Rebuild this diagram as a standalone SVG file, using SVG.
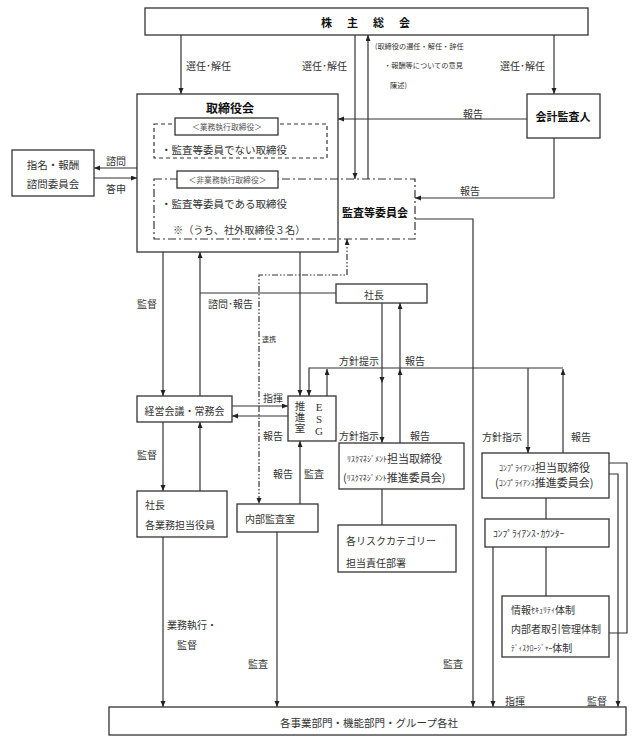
<svg xmlns="http://www.w3.org/2000/svg" width="636" height="747" viewBox="0 0 636 747">
<style>
.b{fill:none;stroke:#333;stroke-width:1.3}
.w{fill:#fff;stroke:#333;stroke-width:1.3}
.dash{fill:none;stroke:#333;stroke-width:1.2;stroke-dasharray:4,3}
.dd{fill:none;stroke:#333;stroke-width:1.2;stroke-dasharray:8,3,2,3}
.c{fill:none;stroke:#333;stroke-width:1.2}
.ar{marker-end:url(#a)}
.ddd{fill:none;stroke:#333;stroke-width:1.2;stroke-dasharray:6,2,1.5,2,1.5,2}
text{font-family:"Noto Sans CJK JP",sans-serif;fill:#333;font-size:10px;dominant-baseline:central}
.t{font-weight:bold;font-size:11px;fill:#111}
.m{text-anchor:middle}
.s{font-size:7.2px}
.k{font-size:8px}
.g{font-size:7.8px;fill:#555}
.vt{writing-mode:vertical-rl;font-size:10.5px;letter-spacing:0.5px}
.lat{font-family:"Liberation Serif",serif;font-size:11px;writing-mode:vertical-rl;text-orientation:upright}
</style>
<defs>
<marker id="a" markerUnits="userSpaceOnUse" markerWidth="6" markerHeight="6" refX="6" refY="2.5" orient="auto-start-reverse"><path d="M0,0 L6,2.5 L0,5 z" fill="#222"/></marker>
</defs>
<g id="connectors">
<path class="c ar" d="M181,35 V94"/>
<path class="c ar" d="M355,35 V179"/>
<path class="c ar" d="M368,179 V35"/>
<path class="c ar" d="M554,35 V94"/>
<path class="c ar" d="M527,119 H338"/>
<path class="c ar" d="M554,138 V198 H415"/>
<path class="c ar" d="M137,168 H94"/>
<path class="c ar" d="M94,178 H137"/>
<path class="c ar" d="M163,252 V396"/>
<path class="c ar" d="M200,396 V252"/>
<path class="c" d="M336,293 H200"/>
<path class="c ar" d="M300,252 V396"/>
<path class="ddd" d="M347,239 V275 H259 V504" marker-start="url(#a)" marker-end="url(#a)"/>
<path class="c ar" d="M232,406 H288"/>
<path class="c ar" d="M288,416 H232"/>
<path class="c ar" d="M300,504 V441"/>
<path class="c ar" d="M277,532 V707"/>
<path class="c ar" d="M163,422 V491"/>
<path class="c ar" d="M200,491 V422"/>
<path class="c ar" d="M163,537 V707"/>
<path class="c ar" d="M382,303 V383"/>
<path class="c ar" d="M382,383 V443"/>
<path class="c ar" d="M400,443 V369"/>
<path class="c ar" d="M400,369 V303"/>
<path class="c ar" d="M563,368 H309 V396"/>
<path class="c ar" d="M327,396 V369"/>
<path class="c ar" d="M528,368 V453"/>
<path class="c ar" d="M563,453 V369"/>
<path class="c ar" d="M415,219 H473 V707"/>
<path class="c" d="M382,489 V525"/>
<path class="c" d="M546,498 V519"/>
<path class="c" d="M546,547 V596"/>
<path class="c ar" d="M493,547 V707"/>
<path class="c ar" d="M609,474 H618 V707"/>
<path class="c" d="M609,463 H627 V633 H609"/>
</g>
<g id="labels">
<text x="186" y="65">選任･解任</text>
<text x="302" y="65">選任･解任</text>
<text x="500" y="65">選任･解任</text>
<text class="s" x="375" y="46">(取締役の選任・解任・辞任</text>
<text class="s" x="384" y="65">・報酬等についての意見</text>
<text class="s" x="390" y="85">陳述)</text>
<text x="463" y="113">報告</text>
<text x="460" y="190">報告</text>
<text x="106" y="160">諮問</text>
<text x="106" y="188">答申</text>
<text x="137" y="303">監督</text>
<text x="208" y="303">諮問･報告</text>
<text x="262" y="339" style="font-size:7px">連携</text>
<text x="339" y="360">方針提示</text>
<text x="405" y="360">報告</text>
<text x="263" y="397">指揮</text>
<text x="263" y="435">報告</text>
<text x="339" y="435">方針指示</text>
<text x="410" y="435">報告</text>
<text x="482" y="436">方針指示</text>
<text x="571" y="436">報告</text>
<text x="137" y="454">監督</text>
<text x="273" y="473">報告</text>
<text x="304" y="473">監査</text>
<text x="167" y="624">業務執行・</text>
<text x="177" y="644">監督</text>
<text x="248" y="663">監査</text>
<text x="443" y="663">監査</text>
<text x="505" y="700">指揮</text>
<text x="587" y="700">監督</text>
</g>
<g id="n-kabunushi">
<rect class="b" x="145" y="8" width="443" height="27"/>
<text class="t" x="321" y="22" style="letter-spacing:15px">株主総会</text>
</g>
<g id="n-torishimariyakukai">
<rect class="b" x="137" y="94" width="201" height="158"/>
<text class="t m" x="230" y="107" style="font-size:12px">取締役会</text>
</g>
<g id="n-gyomu">
<rect class="dash" x="154" y="124" width="173" height="34"/>
<rect class="w" x="175" y="118" width="103" height="17"/>
<text class="g m" x="227" y="126.5">＜業務執行取締役＞</text>
<text x="161" y="149" style="font-size:10.5px">・監査等委員でない取締役</text>
</g>
<g id="n-kansatou">
<rect class="dd" x="154" y="179" width="261" height="60"/>
<rect class="w" x="177" y="171" width="101" height="17"/>
<text class="g m" x="227.5" y="179.5">＜非業務執行取締役＞</text>
<text x="161" y="203" style="font-size:10.5px">・監査等委員である取締役</text>
<text x="173" y="229" style="font-size:10.2px">※（うち、社外取締役３名）</text>
<text class="t m" x="375" y="212">監査等委員会</text>
</g>
<g id="n-kaikei">
<rect class="b" x="527" y="94" width="73" height="44"/>
<text class="t m" x="563" y="116">会計監査人</text>
</g>
<g id="n-shimei">
<rect class="b" x="12" y="150" width="82" height="46"/>
<text class="m" x="53" y="164" style="font-size:10.5px">指名・報酬</text>
<text class="m" x="53" y="183" style="font-size:10.5px">諮問委員会</text>
</g>
<g id="n-keiei">
<rect class="b" x="137" y="396" width="95" height="26"/>
<text class="m" x="184.5" y="410">経営会議・常務会</text>
</g>
<g id="n-shacho">
<rect class="b" x="336" y="284" width="91" height="19"/>
<text class="m" x="374" y="294">社長</text>
</g>
<g id="n-esg">
<rect class="b" x="288" y="396" width="48" height="45"/>
<text class="vt" x="300" y="401">推進室</text>
<text class="lat" x="319" y="401">ESG</text>
</g>
<g id="n-shacho2">
<rect class="b" x="137" y="491" width="90" height="46"/>
<text x="145" y="504">社長</text>
<text x="145" y="524">各業務担当役員</text>
</g>
<g id="n-naibu">
<rect class="b" x="237" y="504" width="81" height="28"/>
<text x="245" y="518">内部監査室</text>
</g>
<g id="n-risk">
<rect class="b" x="339" y="443" width="125" height="46"/>
<text x="347" y="458" style="font-size:11px"><tspan class="k">ﾘｽｸﾏﾈｼﾞﾒﾝﾄ</tspan>担当取締役</text>
<text x="343" y="477" style="font-size:11px">(<tspan class="k">ﾘｽｸﾏﾈｼﾞﾒﾝﾄ</tspan>推進委員会)</text>
</g>
<g id="n-riskcat">
<rect class="b" x="338" y="525" width="118" height="47"/>
<text x="346" y="540">各リスクカテゴリー</text>
<text x="346" y="562">担当責任部署</text>
</g>
<g id="n-compl">
<rect class="b" x="482" y="453" width="127" height="45"/>
<text x="499" y="467" style="font-size:11px"><tspan class="k">ｺﾝﾌﾟﾗｲｱﾝｽ</tspan>担当取締役</text>
<text x="495" y="482" style="font-size:11px">(<tspan class="k">ｺﾝﾌﾟﾗｲｱﾝｽ</tspan>推進委員会)</text>
</g>
<g id="n-counter">
<rect class="b" x="485" y="519" width="124" height="28"/>
<text x="493" y="533" style="font-size:9.5px">ｺﾝﾌﾟﾗｲｱﾝｽ･ｶｳﾝﾀｰ</text>
</g>
<g id="n-joho">
<rect class="b" x="502" y="596" width="107" height="61"/>
<text x="511" y="609">情報<tspan class="k">ｾｷｭﾘﾃｨ</tspan>体制</text>
<text x="511" y="628">内部者取引管理体制</text>
<text x="511" y="647"><tspan style="font-size:7.5px">ﾃﾞｨｽｸﾛｰｼﾞｬｰ</tspan>体制</text>
</g>
<g id="n-jigyo">
<rect class="b" x="109" y="707" width="517" height="28"/>
<text class="m" x="369" y="722" style="font-size:10.5px">各事業部門・機能部門・グループ各社</text>
</g>
</svg>
